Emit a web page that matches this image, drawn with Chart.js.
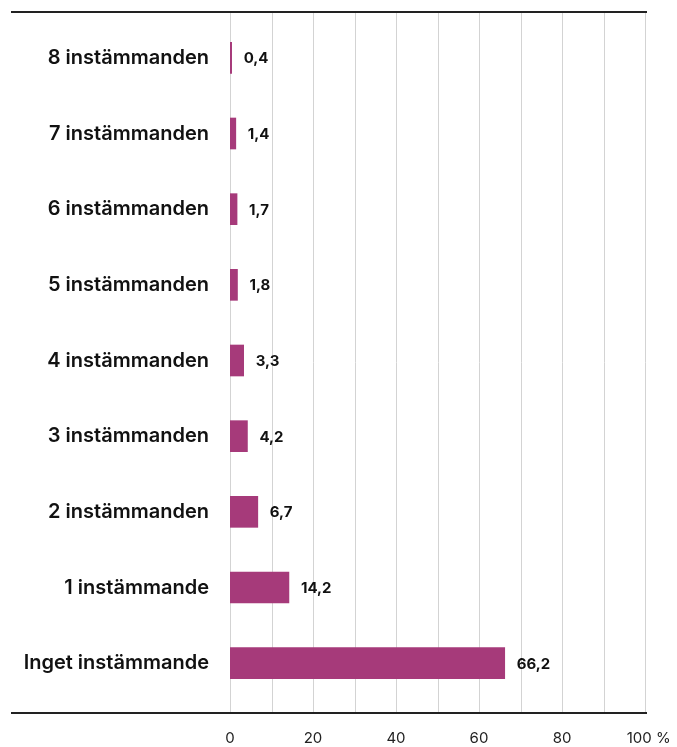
<!DOCTYPE html>
<html lang="sv">
<head>
<meta charset="utf-8">
<script src="https://cdn.jsdelivr.net/npm/chart.js@4"></script>
<style>
  html, body { margin: 0; padding: 0; background: #fff; }
  #wrap { width: 677px; height: 747px; position: relative; }
</style>
</head>
<body>
<div id="wrap"><canvas id="chart"></canvas></div>
<script>
const categories = [
    '8 instämmanden',
    '7 instämmanden',
    '6 instämmanden',
    '5 instämmanden',
    '4 instämmanden',
    '3 instämmanden',
    '2 instämmanden',
    '1 instämmande',
    'Inget instämmande'
];
const shares = [0.4, 1.4, 1.7, 1.8, 3.3, 4.2, 6.7, 14.2, 66.2];
const xTicks = [0, 20, 40, 60, 80, 100];
const gridSteps = [0, 10, 20, 30, 40, 50, 60, 70, 80, 90, 100];

const barColor = '#a63a7a';
const fontFamily = 'Inter, "Noto Sans", sans-serif';

function fmt(v) {
    return v.toFixed(1).replace('.', ',');
}

// grid and the two black rules extend a bit outside the chart area
const framePlugin = {
    id: 'frame',
    beforeDatasetsDraw(chart) {
        const ctx = chart.ctx;
        const x = chart.scales.x;
        const top = 12, bottom = 713;
        ctx.save();
        ctx.strokeStyle = '#d3d3d3';
        ctx.lineWidth = 1;
        gridSteps.forEach(v => {
            const px = Math.round(x.getPixelForValue(v)) + 0.5;
            ctx.beginPath();
            ctx.moveTo(px, top);
            ctx.lineTo(px, bottom);
            ctx.stroke();
        });
        ctx.strokeStyle = '#222';
        ctx.lineWidth = 2;
        const right = x.getPixelForValue(100) + 2;
        [top, bottom].forEach(y => {
            ctx.beginPath();
            ctx.moveTo(11, y);
            ctx.lineTo(right, y);
            ctx.stroke();
        });
        ctx.restore();
    },
    afterDatasetsDraw(chart) {
        const ctx = chart.ctx;
        const meta = chart.getDatasetMeta(0);
        ctx.save();
        ctx.fillStyle = '#111';
        ctx.font = '700 15px ' + fontFamily;
        ctx.textAlign = 'left';
        ctx.textBaseline = 'middle';
        meta.data.forEach((bar, i) => {
            ctx.fillText(fmt(shares[i]), bar.x + 12, bar.y + 1);
        });
        ctx.restore();
    }
};

new Chart(document.getElementById('chart'), {
    type: 'bar',
    data: {
        labels: categories,
        datasets: [{
            data: shares,
            backgroundColor: barColor,
            borderWidth: 0,
            barThickness: 31
        }]
    },
    options: {
        indexAxis: 'y',
        responsive: true,
        maintainAspectRatio: false,
        animation: false,
        layout: {
            padding: {top: 20, right: 32, left: 0, bottom: 0}
        },
        plugins: {
            legend: {display: false},
            tooltip: {enabled: false}
        },
        scales: {
            x: {
                min: 0,
                max: 100,
                afterFit: function (scale) {
                    scale.height = 46;
                    scale.paddingLeft = 0;
                    scale.paddingRight = 0;
                },
                afterBuildTicks: function (scale) {
                    scale.ticks = xTicks.map(v => ({value: v}));
                },
                grid: {display: false, drawTicks: false},
                border: {display: false},
                ticks: {
                    autoSkip: false,
                    maxRotation: 0,
                    padding: 28,
                    color: '#222',
                    font: {family: fontFamily, size: 15},
                    callback: function (value) {
                        return value === 100 ? '\u2002100 %' : String(value);
                    }
                }
            },
            y: {
                afterFit: function (scale) {
                    scale.width = 230;
                    scale.paddingTop = 0;
                    scale.paddingBottom = 0;
                },
                grid: {display: false, drawTicks: false},
                border: {display: false},
                ticks: {
                    padding: 21,
                    color: '#111',
                    font: {family: fontFamily, size: 20, weight: '600'}
                }
            }
        }
    },
    plugins: [framePlugin]
});
</script>
</body>
</html>
